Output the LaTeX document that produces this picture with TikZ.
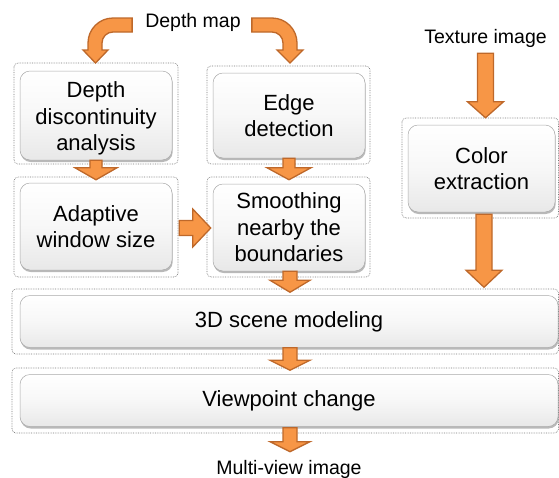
\documentclass[tikz,border=0pt]{standalone}
\usepackage{fontspec}
\setmainfont{Liberation Sans}
\usetikzlibrary{calc,shadows}

\definecolor{arrowfill}{RGB}{247,150,70}
\definecolor{arrowedge}{RGB}{190,104,42}
\definecolor{boxedge}{RGB}{170,170,170}
\definecolor{frameedge}{RGB}{120,120,120}

\tikzset{
  frame/.style={draw=frameedge, densely dotted, line width=0.7pt, rounded corners=4pt},
  stage/.style={draw=boxedge, line width=0.5pt, rounded corners=10pt,
    top color=white, bottom color=black!9, middle color=black!3,
    drop shadow={shadow xshift=0.7pt, shadow yshift=-2pt, opacity=0.55, fill=black!50},
    inner sep=0pt, align=center, font=\fontsize{22}{26.4}\selectfont},
  label/.style={inner sep=1pt, font=\fontsize{19.5}{23}\selectfont},
  blockarrow/.style={fill=arrowfill, draw=arrowedge, line width=1.3pt, line join=miter},
}

% straight downward block arrow from a source anchor towards a target anchor
% #1 source, #2 target, #3 gap above target, #4 shaft half width,
% #5 head half width, #6 head length
\newcommand{\blockdown}[6]{%
  \filldraw[blockarrow] let \p1=(#1), \p2=(#2) in
    (\x1-#4,\y1) -- (\x1-#4,\y2+#3+#6) -- (\x1-#5,\y2+#3+#6) -- (\x1,\y2+#3)
    -- (\x1+#5,\y2+#3+#6) -- (\x1+#4,\y2+#3+#6) -- (\x1+#4,\y1) -- cycle;}

\begin{document}
\begin{tikzpicture}[x=1pt,y=1pt]
\useasboundingbox (0,0) rectangle (559,-477);

% dotted outer frames
\draw[frame] (14,-63) rectangle (178,-164);
\draw[frame] (207,-66) rectangle (370,-164);
\draw[frame] (402,-118) rectangle (558.5,-218);
\draw[frame] (14,-177) rectangle (178,-277);
\draw[frame] (207,-177) rectangle (370,-277);
\draw[frame] (12,-289) rectangle (558.5,-354);
\draw[frame] (12,-368) rectangle (558.5,-433);

% processing stages
\node[stage, minimum width=152pt, minimum height=89pt] (disc) at (96,-115.5) {\rule{0pt}{22pt}Depth\\discontinuity\\analysis};
\node[stage, minimum width=152pt, minimum height=85pt] (edge) at (289,-115.5) {Edge\\detection};
\node[stage, minimum width=147pt, minimum height=87pt] (color) at (481.5,-168.5) {Color\\extraction};
\node[stage, minimum width=152pt, minimum height=87pt] (win) at (96,-226.5) {Adaptive\\window size};
\node[stage, minimum width=152pt, minimum height=87pt] (smooth) at (289,-227.5) {Smoothing\\nearby the\\boundaries};
\node[stage, minimum width=538pt, minimum height=52pt] (scene) at (289,-321.5) {3D scene modeling};
\node[stage, minimum width=538pt, minimum height=52pt] (view) at (289,-400.5) {Viewpoint change};

% inputs and output
\node[label] (depth) at (193,-22) {Depth map};
\node[label] (texture) at (485.5,-38) {Texture image};
\node[label] (multi) at (289,-469) {Multi-view image};

% curved arrows from the depth map
\filldraw[blockarrow] ($(depth.west)+(-12,4)$) -- (113,-18)
  arc[start angle=90, end angle=180, radius=25] -- (88,-50) -- (83,-50)
  -- (95.5,-63) -- (108,-50) -- (102,-50) -- (102,-43)
  arc[start angle=180, end angle=90, radius=11] -- ($(depth.west)+(-12,-10)$) -- cycle;
\filldraw[blockarrow] ($(depth.east)+(10,4)$) -- (272,-18)
  arc[start angle=90, end angle=0, radius=25] -- (297,-50) -- (303,-50)
  -- (290,-63) -- (277,-50) -- (283,-50) -- (283,-43)
  arc[start angle=0, end angle=90, radius=11] -- ($(depth.east)+(10,-10)$) -- cycle;

% texture image into color extraction
\blockdown{$(texture.south)+(0,-5)$}{color.north}{7pt}{8pt}{18pt}{16pt}

% vertical flow between stages
\blockdown{disc.south}{win.north}{3pt}{6pt}{21pt}{12pt}
\blockdown{edge.south}{smooth.north}{4pt}{6pt}{22pt}{12pt}
\blockdown{$(smooth.south)+(1,0)$}{scene.north}{3pt}{7pt}{20pt}{12pt}
\blockdown{$(color.south)+(2.5,-2)$}{scene.north}{8pt}{8pt}{18pt}{17pt}
\blockdown{$(scene.south)+(1,0)$}{view.north}{4pt}{7pt}{20pt}{10pt}
\blockdown{$(view.south)+(1,-1)$}{multi.north}{7pt}{7pt}{20pt}{10pt}

% adaptive window size into smoothing
\filldraw[blockarrow] let \p1=(win.east), \p2=(smooth.west) in
  (\x1+7pt,\y1-1.5pt+7.5pt) -- (\x2-20pt,\y1-1.5pt+7.5pt) -- (\x2-20pt,\y1-1.5pt+19pt)
  -- (\x2-2pt,\y1-1.5pt) -- (\x2-20pt,\y1-1.5pt-19pt) -- (\x2-20pt,\y1-1.5pt-7.5pt)
  -- (\x1+7pt,\y1-1.5pt-7.5pt) -- cycle;
\end{tikzpicture}
\end{document}
